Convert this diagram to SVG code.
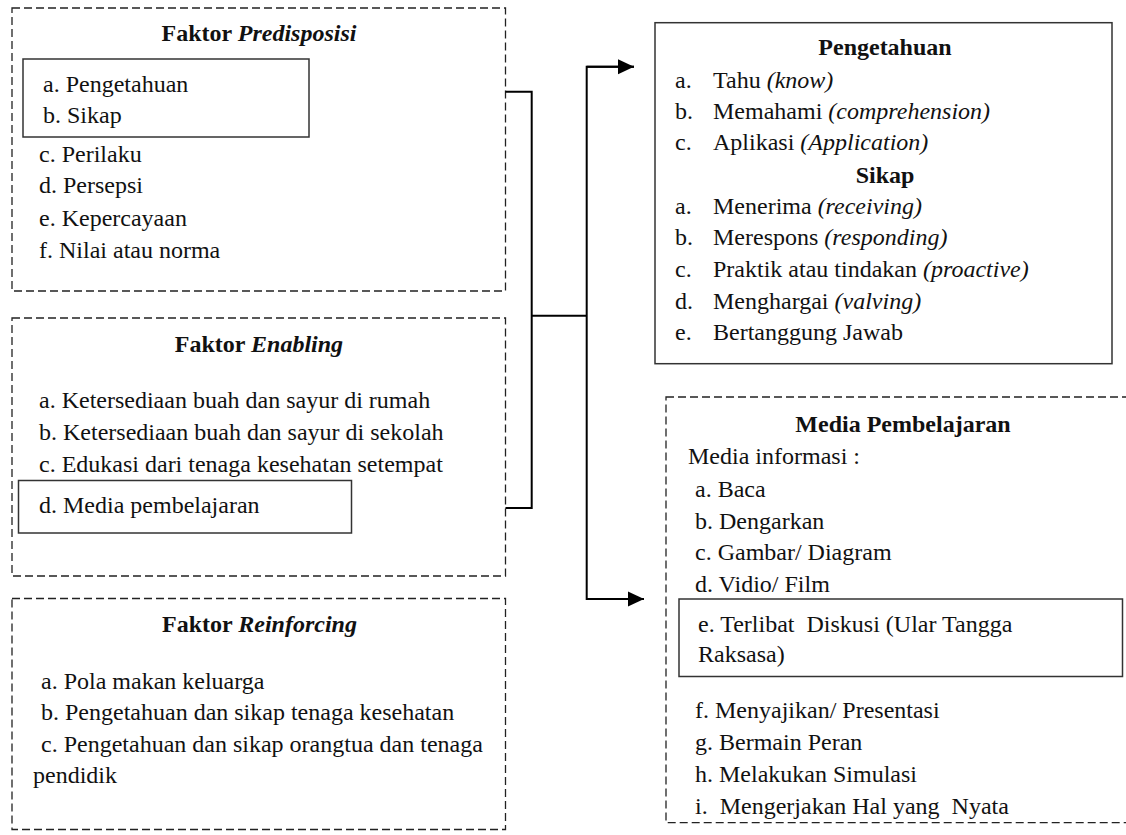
<svg xmlns="http://www.w3.org/2000/svg" width="1126" height="835" viewBox="0 0 1126 835">
<defs>
<style>
text{font-family:"Liberation Serif","Times New Roman",serif;font-size:24px;fill:#111;white-space:pre}
.t{font-weight:bold;text-anchor:middle}
.i{font-style:italic}
.dash{fill:none;stroke:#222;stroke-width:1.3;stroke-dasharray:8 4}
.solid{fill:none;stroke:#333;stroke-width:1.5}
.conn{fill:none;stroke:#000;stroke-width:2}
</style>
<marker id="arr" markerWidth="16" markerHeight="16" refX="16" refY="8" orient="auto" markerUnits="userSpaceOnUse">
<path d="M0,0.5 L16,8 L0,15.5 Z" fill="#000"/>
</marker>
</defs>
<rect width="1126" height="835" fill="#fff"/>

<g id="predisposisi">
<rect class="dash" x="12" y="8" width="493.5" height="283"/>
<text class="t" x="259" y="40.5">Faktor <tspan class="i">Predisposisi</tspan></text>
<rect class="solid" x="23" y="59" width="286" height="78"/>
<text x="43" y="91.5">a. Pengetahuan</text>
<text x="43" y="122.5">b. Sikap</text>
<text x="39" y="161.5">c. Perilaku</text>
<text x="39" y="193">d. Persepsi</text>
<text x="39" y="225.5">e. Kepercayaan</text>
<text x="39" y="257.5">f. Nilai atau norma</text>
</g>

<g id="enabling">
<rect class="dash" x="12" y="318" width="493.5" height="258"/>
<text class="t" x="259" y="351.5">Faktor <tspan class="i">Enabling</tspan></text>
<text x="39" y="408">a. Ketersediaan buah dan sayur di rumah</text>
<text x="39" y="439.5">b. Ketersediaan buah dan sayur di sekolah</text>
<text x="39" y="471.5">c. Edukasi dari tenaga kesehatan setempat</text>
<rect class="solid" x="18.5" y="480.5" width="333" height="52.5"/>
<text x="39" y="512.5">d. Media pembelajaran</text>
</g>

<g id="reinforcing">
<rect class="dash" x="12" y="598.5" width="493.5" height="231"/>
<text class="t" x="259.5" y="632">Faktor <tspan class="i">Reinforcing</tspan></text>
<text x="41" y="689">a. Pola makan keluarga</text>
<text x="41" y="720">b. Pengetahuan dan sikap tenaga kesehatan</text>
<text x="41" y="751.5">c. Pengetahuan dan sikap orangtua dan tenaga</text>
<text x="33" y="783">pendidik</text>
</g>

<g id="pengetahuan-sikap">
<rect class="solid" x="655" y="22.7" width="457" height="341" stroke="#222"/>
<text class="t" x="885" y="55">Pengetahuan</text>
<text x="675" y="88">a.</text><text x="713" y="88">Tahu <tspan class="i">(know)</tspan></text>
<text x="675" y="118.5">b.</text><text x="713" y="118.5">Memahami <tspan class="i">(comprehension)</tspan></text>
<text x="675" y="150">c.</text><text x="713" y="150">Aplikasi <tspan class="i">(Application)</tspan></text>
<text class="t" x="885" y="182.5">Sikap</text>
<text x="675" y="213.5">a.</text><text x="713" y="213.5">Menerima <tspan class="i">(receiving)</tspan></text>
<text x="675" y="245">b.</text><text x="713" y="245">Merespons <tspan class="i">(responding)</tspan></text>
<text x="675" y="276.5">c.</text><text x="713" y="276.5">Praktik atau tindakan <tspan class="i">(proactive)</tspan></text>
<text x="675" y="308.5">d.</text><text x="713" y="308.5">Menghargai <tspan class="i">(valving)</tspan></text>
<text x="675" y="340">e.</text><text x="713" y="340">Bertanggung Jawab</text>
</g>

<g id="media-pembelajaran">
<rect class="dash" x="666" y="397" width="470" height="425.7"/>
<text class="t" x="903" y="431.5">Media Pembelajaran</text>
<text x="688" y="463.5">Media informasi :</text>
<text x="695" y="496.5">a. Baca</text>
<text x="695" y="528.5">b. Dengarkan</text>
<text x="695" y="560">c. Gambar/ Diagram</text>
<text x="695" y="591.5">d. Vidio/ Film</text>
<rect class="solid" x="679" y="599" width="443.5" height="77.5"/>
<text x="698" y="631.5">e. Terlibat  Diskusi (Ular Tangga</text>
<text x="698" y="661.5">Raksasa)</text>
<text x="695" y="717.5">f. Menyajikan/ Presentasi</text>
<text x="695" y="750">g. Bermain Peran</text>
<text x="695" y="781.5">h. Melakukan Simulasi</text>
<text x="695" y="813.5">i.  Mengerjakan Hal yang  Nyata</text>
</g>

<g id="connectors">
<polyline class="conn" points="505.5,91.7 531.7,91.7 531.7,508 505.5,508"/>
<line class="conn" x1="531.7" y1="315.7" x2="586.7" y2="315.7"/>
<polyline class="conn" points="634,66.7 586.7,66.7 586.7,599 644,599" marker-end="url(#arr)"/>
<line class="conn" x1="586.7" y1="66.7" x2="634" y2="66.7" marker-end="url(#arr)"/>
</g>
</svg>
